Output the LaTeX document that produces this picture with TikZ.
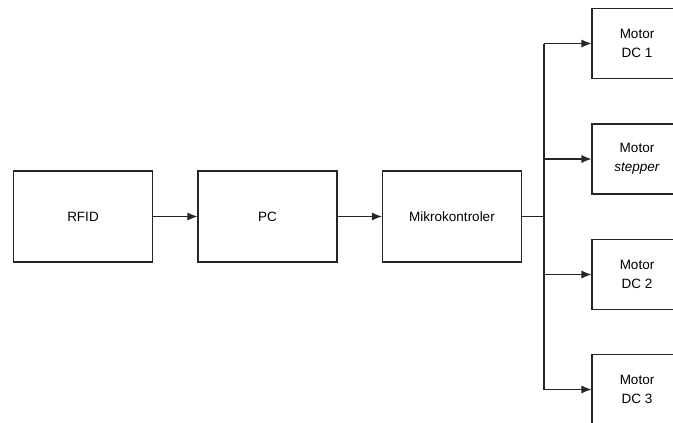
\documentclass[tikz,border=0pt]{standalone}
\usepackage{fontspec}
\setmainfont{Liberation Sans}
\usetikzlibrary{arrows.meta}
\begin{document}
\begin{tikzpicture}[x=1pt,y=-1pt,
  blk/.style={draw=black!85, line width=1.1pt, minimum width=139pt, minimum height=91pt, inner sep=0pt, font=\fontsize{13.5}{18.5}\selectfont, align=center},
  mot/.style={draw=black!85, line width=1.1pt, minimum width=90pt, minimum height=70pt, inner sep=0pt, font=\fontsize{13.5}{18.5}\selectfont, align=center},
  conn/.style={draw=black!85, line width=1.1pt, -{Latex[length=10pt,width=8pt]}},
  ln/.style={draw=black!85, line width=1.1pt}]
\useasboundingbox (0,0) rectangle (673,423);
\clip (0,0) rectangle (673,423);
\node[blk] (rfid) at (83,216.5) {RFID};
\node[blk] (pc) at (267.5,216.5) {PC};
\node[blk] (mk) at (452,216.5) {Mikrokontroler};
\node[mot] (m1) at (637,43.5) {Motor\\DC 1};
\node[mot] (m2) at (637,159) {Motor\\\textit{stepper}};
\node[mot] (m3) at (637,274.5) {Motor\\DC 2};
\node[mot] (m4) at (637,389.5) {Motor\\DC 3};
\coordinate (bus) at (544,216.5);
\coordinate (top) at (544,43.5);
\coordinate (bot) at (544,389.5);
\draw[conn] (rfid) -- (pc);
\draw[conn] (pc) -- (mk);
\draw[ln] (mk.east) -- (bus);
\draw[ln] (top) -- (bot);
\draw[conn] (top) -- (m1.west);
\draw[conn] (bus |- m2.west) -- (m2.west);
\draw[conn] (bus |- m3.west) -- (m3.west);
\draw[conn] (bot) -- (m4.west);
\end{tikzpicture}
\end{document}
